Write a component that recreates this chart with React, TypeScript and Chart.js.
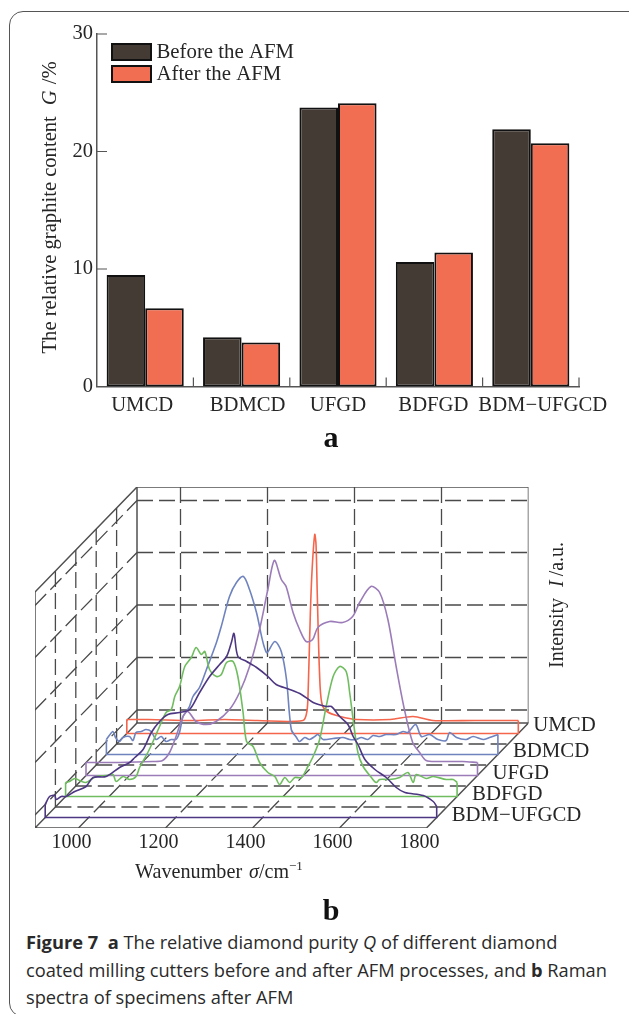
import React, { useEffect, useRef } from "react";
import { Chart, registerables } from "chart.js";

Chart.register(...registerables);

const SERIF = '"Liberation Serif", serif';
const INK = "#262626";

// ---- Panel a ----
const cutters = ["UMCD", "BDMCD", "UFGD", "BDFGD", "BDM\u2212UFGCD"];
const beforeAFM = [9.5, 4.2, 23.75, 10.6, 21.9];
const afterAFM = [6.65, 3.75, 24.1, 11.4, 20.7];
const cutterLabelShift = [-3, 6, 0, -1, 12];

// ---- Panel b ----
const waveTicks = [1000, 1200, 1400, 1600, 1800];
const spectrumNames = ["UMCD", "BDMCD", "UFGD", "BDFGD", "BDM\u2212UFGCD"];
const spectrumColors = ["#f4654c", "#6f83bf", "#9b7cb8", "#70bd60", "#4d3782"];
const spectrumDepths = [4.5, 3.5, 2.5, 1.5, 0.5];
const nameLift = [8, 3, 2, 2, 2];

const umcdWave = [900, 950, 1050, 1125, 1200, 1305, 1314, 1317, 1322, 1326, 1332, 1335, 1338, 1343, 1348, 1360, 1391, 1429, 1506, 1558, 1604, 1700, 1800];
const umcdI = [14, 14, 13, 14, 13, 13, 22, 44, 121, 164, 199, 189, 137, 61, 31, 22, 17, 14, 14, 17, 13, 13, 13];

const bdmcdWave = [900, 915, 921, 930, 938, 953, 961, 968, 980, 991, 1003, 1014, 1026, 1037, 1049, 1060, 1068, 1076, 1084, 1091, 1099, 1114, 1130, 1153, 1164, 1183, 1199, 1215, 1229, 1245, 1268, 1287, 1302, 1314, 1325, 1337, 1344, 1356, 1367, 1379, 1386, 1398, 1421, 1444, 1459, 1474, 1486, 1501, 1513, 1528, 1543, 1566, 1582, 1593, 1611, 1624, 1643, 1662, 1681, 1689, 1705, 1727, 1743, 1766, 1781, 1800];
const bdmcdI = [15, 23, 17, 13, 17, 18, 14, 22, 23, 25, 23, 15, 18, 13, 15, 15, 22, 38, 43, 48, 58, 67, 85, 112, 128, 158, 172, 178, 165, 142, 102, 113, 103, 75, 25, 17, 13, 17, 15, 18, 20, 15, 16, 17, 15, 15, 17, 15, 19, 18, 20, 20, 23, 22, 30, 18, 20, 15, 14, 22, 17, 15, 18, 15, 17, 20];

const ufgdWave = [900, 977, 1053, 1076, 1092, 1107, 1122, 1134, 1153, 1176, 1199, 1230, 1253, 1276, 1299, 1318, 1333, 1349, 1360, 1376, 1391, 1406, 1421, 1433, 1460, 1490, 1513, 1529, 1555, 1575, 1594, 1613, 1632, 1651, 1667, 1682, 1713, 1766, 1800];
const ufgdI = [13, 13, 14, 15, 23, 39, 58, 64, 54, 51, 54, 66, 83, 109, 146, 186, 215, 196, 189, 163, 146, 134, 136, 148, 154, 153, 159, 173, 189, 183, 156, 109, 66, 33, 23, 15, 14, 14, 13];

const bdfgdWave = [900, 909, 921, 932, 947, 970, 993, 1009, 1016, 1032, 1047, 1062, 1070, 1089, 1101, 1116, 1131, 1143, 1151, 1162, 1174, 1189, 1200, 1212, 1220, 1231, 1247, 1258, 1270, 1285, 1296, 1308, 1316, 1331, 1346, 1365, 1381, 1392, 1404, 1415, 1427, 1442, 1457, 1469, 1484, 1499, 1515, 1530, 1545, 1553, 1561, 1572, 1584, 1603, 1614, 1622, 1645, 1668, 1687, 1699, 1706, 1729, 1745, 1775, 1791, 1800];
const bdfgdI = [14, 15, 18, 16, 14, 20, 21, 22, 15, 20, 17, 20, 29, 44, 55, 70, 84, 87, 100, 110, 130, 139, 149, 142, 145, 127, 120, 122, 134, 135, 120, 84, 55, 50, 34, 24, 20, 12, 19, 14, 19, 19, 30, 40, 57, 90, 120, 130, 125, 104, 77, 44, 30, 19, 14, 17, 17, 19, 24, 14, 22, 18, 20, 17, 17, 14];

const bdmWave = [900, 910, 922, 925, 937, 948, 968, 994, 1010, 1040, 1071, 1094, 1106, 1125, 1144, 1163, 1182, 1209, 1232, 1255, 1278, 1301, 1317, 1328, 1334, 1343, 1363, 1386, 1412, 1431, 1462, 1489, 1516, 1546, 1558, 1577, 1596, 1608, 1619, 1635, 1658, 1684, 1707, 1727, 1769, 1792, 1800];
const bdmI = [13, 21, 22, 18, 21, 21, 26, 31, 40, 41, 50, 55, 60, 68, 85, 96, 103, 105, 108, 125, 141, 153, 161, 175, 184, 161, 156, 150, 141, 133, 128, 123, 115, 111, 111, 101, 93, 81, 73, 58, 48, 40, 30, 25, 22, 16, 11];

const spectraWave = [umcdWave, bdmcdWave, ufgdWave, bdfgdWave, bdmWave];
const spectraI = [umcdI, bdmcdI, ufgdI, bdfgdI, bdmI];

const wallLevels = [13, 65.5, 118, 170.5, 222.5];
const wallDepths = [1, 2, 3, 4];
const WAVE_MIN = 900;
const WAVE_MAX = 1800;
const WALL_TOP = 236;
const DEPTH_MAX = 5;
const DEPTH_X = 46.9; // wavenumber units per depth step
const DEPTH_Y = 21; // intensity units per depth step

const project = (wave: number, depth: number, intensity: number) => ({
  x: wave + depth * DEPTH_X,
  y: intensity + depth * DEPTH_Y,
});

type Run = { text: string; font: string; gap?: number; rise?: number };

function drawRuns(ctx: CanvasRenderingContext2D, runs: Run[]) {
  let x = 0;
  ctx.textAlign = "left";
  ctx.textBaseline = "alphabetic";
  for (const r of runs) {
    x += r.gap ?? 0;
    ctx.font = r.font;
    ctx.fillText(r.text, x, -(r.rise ?? 0));
    x += ctx.measureText(r.text).width;
  }
}

const panelAPlugin = {
  id: "panelA",
  afterDraw(chart: any) {
    const { ctx, scales, chartArea } = chart;
    const { x, y } = scales;
    const step = (chartArea.right - chartArea.left) / cutters.length;
    ctx.save();
    ctx.strokeStyle = "#555";
    ctx.lineWidth = 1.2;
    ctx.beginPath();
    y.ticks.forEach((t: any) => {
      if (t.value === 0) return;
      const py = y.getPixelForValue(t.value);
      ctx.moveTo(chartArea.left, py);
      ctx.lineTo(chartArea.left + 10, py);
    });
    cutters.forEach((_, i) => {
      const px = chartArea.left + (i + 1) * step;
      ctx.moveTo(px, chartArea.bottom);
      ctx.lineTo(px, chartArea.bottom - 9);
    });
    ctx.stroke();

    ctx.fillStyle = INK;
    ctx.font = `20.7px ${SERIF}`;
    ctx.textAlign = "center";
    ctx.textBaseline = "middle";
    cutters.forEach((c, i) => {
      ctx.fillText(c, x.getPixelForValue(i) + cutterLabelShift[i], chartArea.bottom + 19);
    });

    // legend
    chart.data.datasets.forEach((d: any, i: number) => {
      const top = chartArea.top + 10 + i * 22;
      ctx.fillStyle = d.backgroundColor;
      ctx.strokeStyle = "#111";
      ctx.lineWidth = 2;
      ctx.fillRect(112, top, 39, 16);
      ctx.strokeRect(112, top, 39, 16);
      ctx.fillStyle = INK;
      ctx.font = `20.8px ${SERIF}`;
      ctx.textAlign = "left";
      ctx.textBaseline = "middle";
      ctx.fillText(d.label, 156.5, top + 9);
    });

    // y title
    ctx.translate(56, chartArea.bottom - 33);
    ctx.rotate(-Math.PI / 2);
    ctx.fillStyle = INK;
    drawRuns(ctx, [
      { text: "The relative graphite content", font: `20.6px ${SERIF}` },
      { text: "G", font: `italic 20.6px ${SERIF}`, gap: 11 },
      { text: "/%", font: `20.6px ${SERIF}`, gap: 6 },
    ]);
    ctx.restore();
  },
};

const panelBPlugin = {
  id: "panelB",
  afterDraw(chart: any) {
    const { ctx, scales } = chart;
    const { x, y } = scales;
    ctx.save();
    ctx.fillStyle = INK;
    ctx.font = `20.8px ${SERIF}`;
    ctx.textAlign = "left";
    ctx.textBaseline = "middle";
    spectrumNames.forEach((name, i) => {
      const p = project(WAVE_MAX, spectrumDepths[i], 0);
      ctx.fillText(name, x.getPixelForValue(p.x) + 15, y.getPixelForValue(p.y) - nameLift[i]);
    });
    ctx.save();
    ctx.translate(135, 878 - 470);
    drawRuns(ctx, [
      { text: "Wavenumber", font: `20.2px ${SERIF}` },
      { text: "\u03C3", font: `italic 20px ${SERIF}`, gap: 7 },
      { text: "/cm", font: `20px ${SERIF}` },
      { text: "\u22121", font: `13px ${SERIF}`, rise: 8 },
    ]);
    ctx.restore();
    ctx.translate(563, 668 - 470);
    ctx.rotate(-Math.PI / 2);
    drawRuns(ctx, [
      { text: "Intensity", font: `20px ${SERIF}` },
      { text: "I", font: `italic 20px ${SERIF}`, gap: 11 },
      { text: "/a.u.", font: `20px ${SERIF}`, gap: 4 },
    ]);
    ctx.restore();
  },
};

function wireDataset(points: { x: number; y: number }[], dashed: boolean) {
  return {
    label: dashed ? "grid" : "frame",
    data: points,
    showLine: true,
    pointRadius: 0,
    borderColor: dashed ? "#4a4a4a" : "#505050",
    borderWidth: dashed ? 1.3 : 1.5,
    borderDash: dashed ? [16, 6] : [],
    order: 10,
  };
}

function buildSpectra() {
  const out: any[] = [];
  spectrumNames.forEach((name, i) => {
    const d = spectrumDepths[i];
    const base = { showLine: true, pointRadius: 0, borderColor: spectrumColors[i], borderWidth: 1.6, order: 5 - i };
    out.push({
      ...base,
      label: name,
      data: spectraWave[i].map((w, k) => project(w, d, spectraI[i][k])),
      tension: 0.3,
    });
    const first = spectraI[i][0];
    const last = spectraI[i][spectraI[i].length - 1];
    out.push({
      ...base,
      label: name + " baseline",
      data: [
        project(WAVE_MIN, d, first),
        project(WAVE_MIN, d, 0),
        project(WAVE_MAX, d, 0),
        project(WAVE_MAX, d, last),
      ],
      tension: 0,
    });
  });
  return out;
}

function buildWire() {
  const out: any[] = [];
  // dashed lines on the back wall and the left wall
  wallLevels.forEach((lv) => {
    out.push(wireDataset([project(WAVE_MIN, DEPTH_MAX, lv), project(WAVE_MAX, DEPTH_MAX, lv)], true));
    out.push(wireDataset([project(WAVE_MIN, 0, lv), project(WAVE_MIN, DEPTH_MAX, lv)], true));
  });
  waveTicks.slice(0, -1).forEach((w) => {
    out.push(wireDataset([project(w, DEPTH_MAX, 0), project(w, DEPTH_MAX, WALL_TOP)], true));
    out.push(wireDataset([project(w, 0, 0), project(w, DEPTH_MAX, 0)], true));
  });
  wallDepths.forEach((d) => {
    out.push(wireDataset([project(WAVE_MIN, d, 0), project(WAVE_MIN, d, WALL_TOP)], true));
    out.push(wireDataset([project(WAVE_MIN, d, 0), project(WAVE_MAX, d, 0)], true));
  });
  // solid frame
  out.push(wireDataset([
    project(WAVE_MIN, 0, WALL_TOP), project(WAVE_MIN, 0, 0), project(WAVE_MAX, 0, 0),
    project(WAVE_MAX, DEPTH_MAX, 0), project(WAVE_MIN, DEPTH_MAX, 0), project(WAVE_MIN, 0, 0),
  ], false));
  out.push(wireDataset([
    project(WAVE_MIN, 0, WALL_TOP), project(WAVE_MIN, DEPTH_MAX, WALL_TOP), project(WAVE_MAX, DEPTH_MAX, WALL_TOP),
    project(WAVE_MAX, DEPTH_MAX, 0),
  ], false));
  out.push(wireDataset([project(WAVE_MIN, DEPTH_MAX, WALL_TOP), project(WAVE_MIN, DEPTH_MAX, 0)], false));
  return out;
}

const abs = (left: number, top: number): React.CSSProperties => ({ position: "absolute", left, top, whiteSpace: "nowrap" });
const capLine: React.CSSProperties = { fontFamily: '"Open Sans", sans-serif', fontSize: 18.25, lineHeight: "27.5px", color: "#2a2a2a" };

export default function App() {
  const aRef = useRef<HTMLCanvasElement>(null);
  const bRef = useRef<HTMLCanvasElement>(null);

  useEffect(() => {
    const a = new Chart(aRef.current!, {
      type: "bar",
      data: {
        labels: cutters,
        datasets: [
          { label: "Before the AFM", data: beforeAFM, backgroundColor: "#453b35", borderColor: "#111", borderWidth: 2, borderSkipped: false, categoryPercentage: 0.8, barPercentage: 1 },
          { label: "After the AFM", data: afterAFM, backgroundColor: "#f26e52", borderColor: "#111", borderWidth: 2, borderSkipped: false, categoryPercentage: 0.8, barPercentage: 1 },
        ],
      },
      options: {
        animation: false,
        responsive: false,
        layout: { padding: { left: 47, top: 34, right: 50, bottom: 470 - 386.5 } },
        plugins: { legend: { display: false }, tooltip: { enabled: false } },
        scales: {
          x: {
            grid: { display: false },
            border: { color: "#555", width: 1.5 },
            ticks: { display: false },
            afterFit: (s: any) => { s.height = 0; },
          },
          y: {
            min: 0,
            max: 30,
            grid: { display: false, drawTicks: false },
            border: { color: "#555", width: 1.5 },
            ticks: { stepSize: 10, padding: 4, color: INK, font: { family: SERIF, size: 20.5 } },
            afterFit: (s: any) => { s.width = 50; },
          },
        },
      } as any,
      plugins: [panelAPlugin],
    } as any);

    const b = new Chart(bRef.current!, {
      type: "scatter",
      data: { datasets: [...buildSpectra(), ...buildWire()] },
      options: {
        animation: false,
        responsive: false,
        layout: { padding: { left: 35, top: 17, right: 100.5, bottom: 450 - 358 - 30 } },
        plugins: { legend: { display: false }, tooltip: { enabled: false } },
        scales: {
          x: {
            type: "linear",
            min: WAVE_MIN,
            max: WAVE_MAX + DEPTH_MAX * DEPTH_X,
            grid: { display: false, drawTicks: false },
            border: { display: false },
            afterBuildTicks: (s: any) => { s.ticks = waveTicks.map((value) => ({ value })); },
            afterFit: (s: any) => { s.height = 30; },
            ticks: {
              autoSkip: false,
              maxRotation: 0,
              padding: 3,
              labelOffset: -7,
              color: INK,
              font: { family: SERIF, size: 20 },
              callback: (v: any) => String(v),
            },
          },
          y: { type: "linear", display: false, min: 0, max: WALL_TOP + DEPTH_MAX * DEPTH_Y },
        },
      } as any,
      plugins: [panelBPlugin],
    } as any);

    return () => {
      a.destroy();
      b.destroy();
    };
  }, []);

  const letter = (ch: string, top: number) => (
    <div style={{ ...abs(331 - 20, top), width: 40, textAlign: "center", fontFamily: SERIF, fontWeight: "bold", fontSize: 30, lineHeight: "34px", color: "#111" }}>{ch}</div>
  );

  return (
    <div style={{ position: "fixed", left: 0, top: 0, width: 629, height: 1014, overflow: "hidden", background: "#fff" }}>
      <div style={{ position: "absolute", left: 9, top: 11, width: 700, height: 1006, border: "1px solid #555", borderRadius: 14, boxSizing: "border-box" }} />
      <canvas ref={aRef} width={629} height={470} style={{ position: "absolute", left: 0, top: 0, width: 629, height: 470 }} />
      <canvas ref={bRef} width={629} height={450} style={{ position: "absolute", left: 0, top: 470, width: 629, height: 450 }} />
      {letter("a", 420)}
      {letter("b", 893)}
      <div style={{ ...abs(26, 928), ...capLine }}><b>Figure 7</b>{"\u00A0\u00A0"}<b>a</b> The relative diamond purity <i>Q</i> of different diamond</div>
      <div style={{ ...abs(26, 955.5), ...capLine }}>coated milling cutters before and after AFM processes, and <b>b</b> Raman</div>
      <div style={{ ...abs(26, 983), ...capLine }}>spectra of specimens after AFM</div>
    </div>
  );
}
